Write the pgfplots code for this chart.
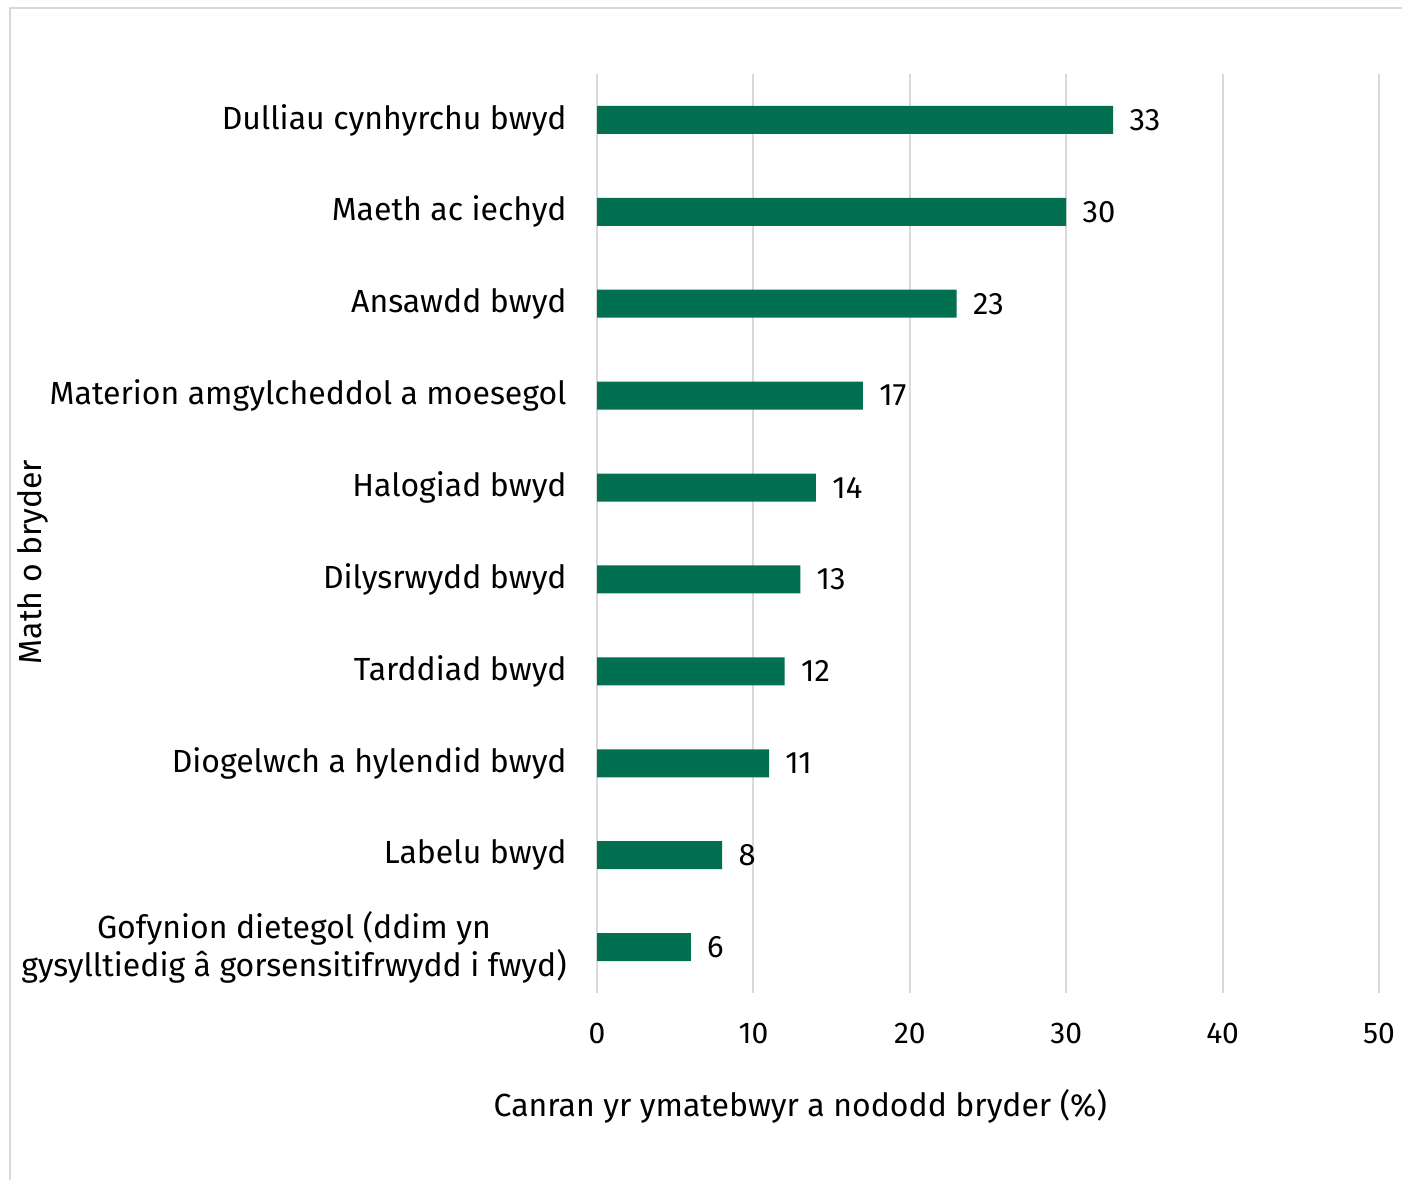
\documentclass[border=0pt]{standalone}
\usepackage{fontspec}
\setmainfont{Fira Sans}
\usepackage{pgfplots}
\pgfplotsset{compat=1.18}
\definecolor{barteal}{RGB}{0,112,80}
\definecolor{gridgray}{RGB}{217,217,217}
\definecolor{framegray}{RGB}{217,217,217}

\begin{document}
\begin{tikzpicture}[x=1pt,y=1pt]
\path[use as bounding box] (0,0) rectangle (701,590);
\draw[framegray,line width=1pt] (5,0) -- (5,586) -- (701,586);
\begin{axis}[
  at={(298.5pt,93.5pt)},anchor=south west,
  scale only axis,width=391pt,height=459.5pt,
  xbar,bar width=14pt,
  xmin=0,xmax=50,ymin=-0.5,ymax=9.5,
  xtick={0,10,...,50},
  ytick={0,...,9},
  yticklabels={{Gofynion dietegol (ddim yn\\gysylltiedig â gorsensitifrwydd i fwyd)},
    Labelu bwyd,Diogelwch a hylendid bwyd,Tarddiad bwyd,Dilysrwydd bwyd,
    Halogiad bwyd,Materion amgylcheddol a moesegol,Ansawdd bwyd,
    Maeth ac iechyd,Dulliau cynhyrchu bwyd},
  axis line style={draw=none},
  major tick length=0pt,
  xmajorgrids,grid style={draw=gridgray,line width=1pt},
  /pgf/number format/assume math mode=true,
  xticklabel style={font=\fontsize{15}{18}\selectfont,inner sep=0pt,yshift=-15pt},
  yticklabel style={font=\fontsize{16}{19}\selectfont,align=center,inner sep=0pt,xshift=-15pt},
  nodes near coords,
  every node near coord/.append style={font=\fontsize{15.5}{18}\selectfont,
    anchor=west,inner sep=0pt,xshift=8pt,black},
  xlabel={Canran yr ymatebwyr a nododd bryder (\%)},
  ylabel={Math o bryder},
  label style={font=\fontsize{16}{19}\selectfont},
  xlabel style={at={(axis description cs:0.26,-0.123)},anchor=center},
  ylabel style={at={(axis description cs:-0.721,0.469)},anchor=center,rotate=0},
]
\addplot[fill=barteal,draw=none] coordinates
  {(6,0) (8,1) (11,2) (12,3) (13,4) (14,5) (17,6) (23,7) (30,8) (33,9)};
\end{axis}
\end{tikzpicture}
\end{document}
